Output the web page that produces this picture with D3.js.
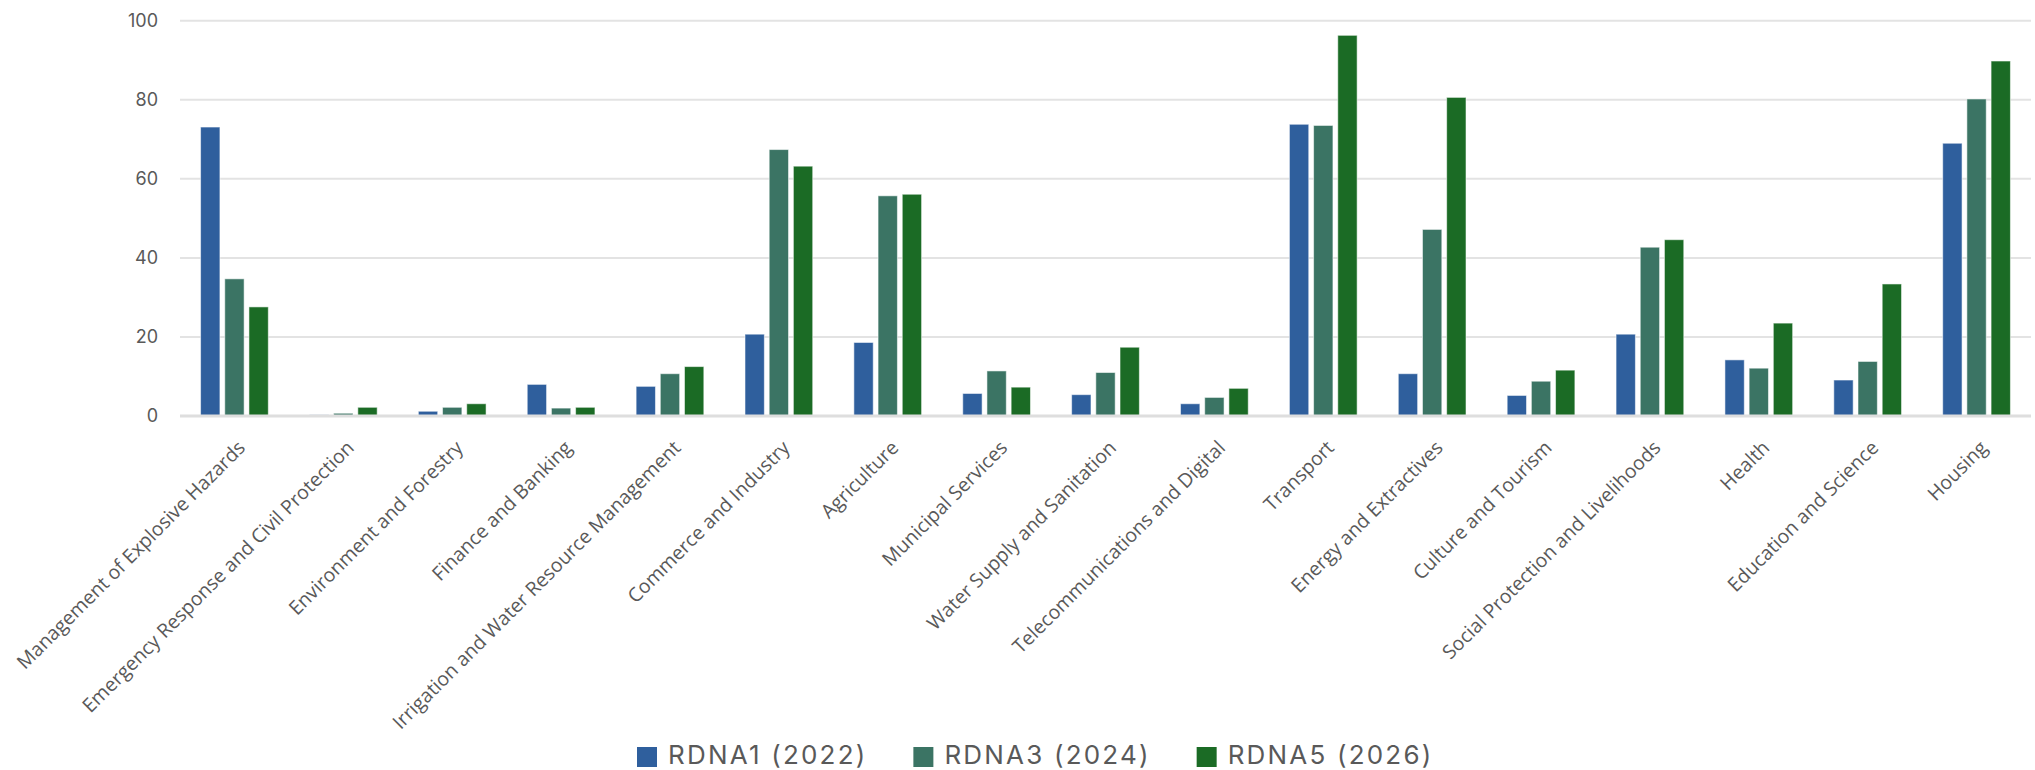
<!DOCTYPE html>
<html>
<head>
<meta charset="utf-8">
<script src="https://cdn.jsdelivr.net/npm/d3@7"></script>
<style>
  html, body { margin: 0; padding: 0; background: #ffffff; }
  svg { display: block; }
</style>
</head>
<body>
<svg id="chart" width="2035" height="770"></svg>
<script>
const categories = [
  "Management of Explosive Hazards",
  "Emergency Response and Civil Protection",
  "Environment and Forestry",
  "Finance and Banking",
  "Irrigation and Water Resource Management",
  "Commerce and Industry",
  "Agriculture",
  "Municipal Services",
  "Water Supply and Sanitation",
  "Telecommunications and Digital",
  "Transport",
  "Energy and Extractives",
  "Culture and Tourism",
  "Social Protection and Livelihoods",
  "Health",
  "Education and Science",
  "Housing"
];
const seriesNames = ["RDNA1 (2022)", "RDNA3 (2024)", "RDNA5 (2026)"];
const rdna1 = [73.1, 0.3, 1.2, 8.0, 7.5, 20.7, 18.6, 5.7, 5.4, 3.1, 73.8, 10.7, 5.2, 20.7, 14.2, 9.1, 69.0];
const rdna3 = [34.7, 0.7, 2.2, 2.0, 10.7, 67.4, 55.7, 11.4, 11.0, 4.7, 73.5, 47.2, 8.8, 42.7, 12.1, 13.8, 80.2];
const rdna5 = [27.6, 2.2, 3.1, 2.2, 12.5, 63.2, 56.1, 7.3, 17.4, 7.0, 96.3, 80.6, 11.6, 44.6, 23.5, 33.4, 89.8];
const yTicks = [0, 20, 40, 60, 80, 100];

const seriesValues = [rdna1, rdna3, rdna5];
const colors = ["#2f5f9d", "#3b7464", "#1b6b25"];

const svg = d3.select("#chart");
const plotLeft = 180, plotRight = 2031, plotTop = 20.7, plotBottom = 416;

const x0 = d3.scaleBand().domain(categories).range([plotLeft, plotRight])
  .paddingInner(0.378).paddingOuter(0.189);
const x1 = d3.scaleBand().domain(seriesNames).range([0, x0.bandwidth()]).paddingInner(0.2);
const y = d3.scaleLinear().domain([0, 100]).range([plotBottom, plotTop]);

// gridlines
const grid = svg.append("g");
grid.selectAll("line").data(yTicks.filter(t => t !== 0)).join("line")
  .attr("x1", plotLeft).attr("x2", plotRight)
  .attr("y1", d => y(d)).attr("y2", d => y(d))
  .attr("stroke", "#e3e3e3").attr("stroke-width", 2);

// y axis labels
const yAxis = d3.axisLeft(y).tickValues(yTicks).tickSize(0).tickPadding(22);
const yg = svg.append("g").attr("transform", `translate(${plotLeft},0)`).call(yAxis);
yg.select(".domain").remove();
yg.selectAll("text")
  .attr("font-family", "Inter, 'Open Sans', sans-serif")
  .attr("font-size", "18px")
  .attr("fill", "#595959");

// bars
const groups = svg.append("g").selectAll("g").data(categories).join("g")
  .attr("transform", d => `translate(${x0(d)},0)`);
groups.selectAll("rect")
  .data((c, i) => seriesNames.map((s, j) => ({ s, v: seriesValues[j][i], j })))
  .join("rect")
  .attr("x", d => x1(d.s))
  .attr("width", x1.bandwidth())
  .attr("y", d => y(d.v))
  .attr("height", d => y(0) - y(d.v))
  .attr("fill", d => colors[d.j])
  .attr("stroke", "#ffffff").attr("stroke-opacity", 0.55).attr("stroke-width", 1);

// baseline
svg.append("line")
  .attr("x1", plotLeft).attr("x2", plotRight)
  .attr("y1", y(0)).attr("y2", y(0))
  .attr("stroke", "#dedede").attr("stroke-width", 3);

// x axis labels
const xAxis = d3.axisBottom(x0).tickSize(0).tickPadding(0);
const xg = svg.append("g").attr("transform", `translate(0,${plotBottom})`).call(xAxis);
xg.select(".domain").remove();
xg.selectAll(".tick text")
  .attr("font-family", "'Open Sans', sans-serif")
  .attr("font-size", "19.5px")
  .attr("fill", "#595959")
  .attr("text-anchor", "end")
  .attr("dy", null)
  .attr("y", 0)
  .attr("transform", "translate(12,33) rotate(-45)");

// legend
const legend = svg.append("g");
let lx = 637;
seriesNames.forEach((name, i) => {
  legend.append("rect").attr("x", lx).attr("y", 747).attr("width", 20).attr("height", 20)
    .attr("fill", colors[i]);
  const t = legend.append("text").attr("x", lx + 31).attr("y", 764)
    .attr("font-family", "Inter, 'Open Sans', sans-serif")
    .attr("font-size", "26px")
    .attr("letter-spacing", "2.2px")
    .attr("fill", "#595959")
    .text(name);
  lx = lx + 31 + t.node().getComputedTextLength() + 46;
});
</script>
</body>
</html>
